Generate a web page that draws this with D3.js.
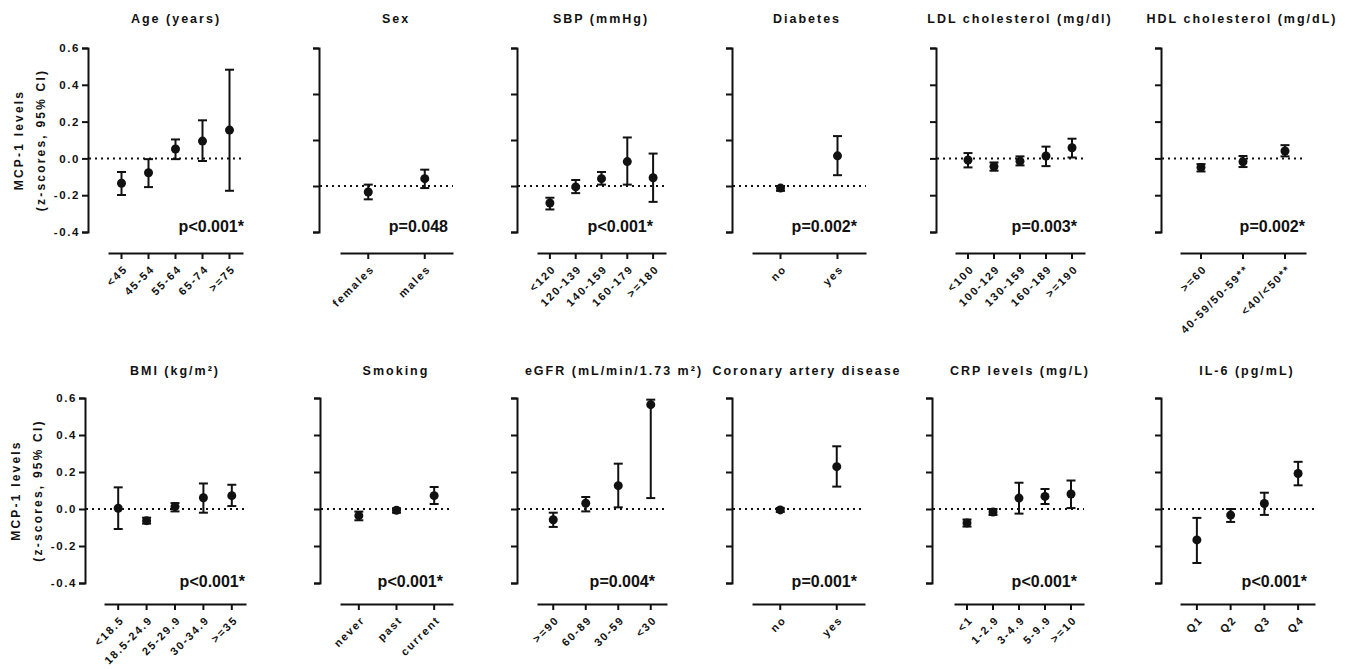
<!DOCTYPE html>
<html>
<head>
<meta charset="utf-8">
<script src="https://cdn.jsdelivr.net/npm/d3@7"></script>
<style>
  body { margin: 0; background: #fff; }
  svg { font-family: "Liberation Sans", Arial, sans-serif; font-weight: bold; }
</style>
</head>
<body>
<svg width="1360" height="669"></svg>
<script>
// values (z-scores, 95% CI)
const ageCats = ["<45", "45-54", "55-64", "65-74", ">=75"];
const ageMean = [-0.135, -0.078, 0.051, 0.094, 0.154];
const ageLo = [-0.199, -0.156, -0.004, -0.014, -0.176];
const ageHi = [-0.074, -0.004, 0.103, 0.207, 0.482];

const sexCats = ["females", "males"];
const sexMean = [-0.026, 0.032];
const sexLo = [-0.058, -0.009];
const sexHi = [0.006, 0.071];

const sbpCats = ["<120", "120-139", "140-159", "160-179", ">=180"];
const sbpMean = [-0.074, -0.004, 0.032, 0.106, 0.036];
const sbpLo = [-0.102, -0.031, 0.006, 0.006, -0.069];
const sbpHi = [-0.051, 0.026, 0.061, 0.211, 0.141];

const diabCats = ["no", "yes"];
const diabMean = [-0.009, 0.131];
const diabLo = [-0.021, 0.047];
const diabHi = [0.0, 0.217];

const ldlCats = ["<100", "100-129", "130-159", "160-189", ">=190"];
const ldlMean = [-0.009, -0.044, -0.015, 0.013, 0.058];
const ldlLo = [-0.049, -0.067, -0.038, -0.042, 0.005];
const ldlHi = [0.029, -0.022, 0.011, 0.064, 0.107];

const hdlCats = [">=60", "40-59/50-59**", "<40/<50**"];
const hdlMean = [-0.049, -0.018, 0.040];
const hdlLo = [-0.071, -0.047, 0.011];
const hdlHi = [-0.031, 0.013, 0.072];

const bmiCats = ["<18.5", "18.5-24.9", "25-29.9", "30-34.9", ">=35"];
const bmiMean = [0.004, -0.063, 0.013, 0.061, 0.072];
const bmiLo = [-0.108, -0.079, -0.013, -0.020, 0.016];
const bmiHi = [0.117, -0.047, 0.032, 0.138, 0.131];

const smokCats = ["never", "past", "current"];
const smokMean = [-0.036, -0.007, 0.072];
const smokLo = [-0.061, -0.020, 0.027];
const smokHi = [-0.014, 0.004, 0.119];

const egfrCats = [">=90", "60-89", "30-59", "<30"];
const egfrMean = [-0.058, 0.031, 0.126, 0.564];
const egfrLo = [-0.097, -0.013, 0.009, 0.059];
const egfrHi = [-0.020, 0.065, 0.245, 0.591];

const cadCats = ["no", "yes"];
const cadMean = [-0.005, 0.229];
const cadLo = [-0.016, 0.121];
const cadHi = [0.005, 0.339];

const crpCats = ["<1", "1-2.9", "3-4.9", "5-9.9", ">=10"];
const crpMean = [-0.075, -0.016, 0.059, 0.068, 0.081];
const crpLo = [-0.095, -0.032, -0.025, 0.027, 0.005];
const crpHi = [-0.057, 0.0, 0.142, 0.108, 0.154];

const il6Cats = ["Q1", "Q2", "Q3", "Q4"];
const il6Mean = [-0.167, -0.033, 0.030, 0.192];
const il6Lo = [-0.292, -0.070, -0.032, 0.128];
const il6Hi = [-0.048, 0.0, 0.088, 0.255];

const titles = ["Age (years)", "Sex", "SBP (mmHg)", "Diabetes", "LDL cholesterol (mg/dl)", "HDL cholesterol (mg/dL)",
  "BMI (kg/m²)", "Smoking", "eGFR (mL/min/1.73 m²)", "Coronary artery disease", "CRP levels (mg/L)", "IL-6 (pg/mL)"];
const pValues = ["p<0.001*", "p=0.048", "p<0.001*", "p=0.002*", "p=0.003*", "p=0.002*",
  "p<0.001*", "p<0.001*", "p=0.004*", "p=0.001*", "p<0.001*", "p<0.001*"];

const wide = [-0.4, 0.6];
const narrow = [-0.2, 0.6];

const rows = [
  { top: 48, bot: 232, axisY: 253, titleY: 23, pY: 232 },
  { top: 398, bot: 583, axisY: 604, titleY: 375, pY: 587 }
];

// layout of each panel: y axis position, x axis span, title centre, right edge of p text
const panels = [
  { row: 0, cats: ageCats, mean: ageMean, lo: ageLo, hi: ageHi, dom: wide, yx: 88, x0: 108, x1: 243, tx: 176, px: 244, labels: true },
  { row: 0, cats: sexCats, mean: sexMean, lo: sexLo, hi: sexHi, dom: narrow, yx: 319, x0: 340, x1: 453, tx: 396, px: 448 },
  { row: 0, cats: sbpCats, mean: sbpMean, lo: sbpLo, hi: sbpHi, dom: narrow, yx: 517, x0: 537, x1: 666, tx: 601, px: 653 },
  { row: 0, cats: diabCats, mean: diabMean, lo: diabLo, hi: diabHi, dom: narrow, yx: 732, x0: 752, x1: 866, tx: 807, px: 857 },
  { row: 0, cats: ldlCats, mean: ldlMean, lo: ldlLo, hi: ldlHi, dom: wide, yx: 936, x0: 955, x1: 1085, tx: 1020, px: 1077 },
  { row: 0, cats: hdlCats, mean: hdlMean, lo: hdlLo, hi: hdlHi, dom: wide, yx: 1161, x0: 1180, x1: 1306, tx: 1242, px: 1305 },
  { row: 1, cats: bmiCats, mean: bmiMean, lo: bmiLo, hi: bmiHi, dom: wide, yx: 85, x0: 104, x1: 246, tx: 175, px: 245, labels: true },
  { row: 1, cats: smokCats, mean: smokMean, lo: smokLo, hi: smokHi, dom: wide, yx: 320, x0: 340, x1: 453, tx: 396, px: 443 },
  { row: 1, cats: egfrCats, mean: egfrMean, lo: egfrLo, hi: egfrHi, dom: wide, yx: 517, x0: 537, x1: 667, tx: 614, px: 655 },
  { row: 1, cats: cadCats, mean: cadMean, lo: cadLo, hi: cadHi, dom: wide, yx: 732, x0: 752, x1: 865, tx: 807, px: 857 },
  { row: 1, cats: crpCats, mean: crpMean, lo: crpLo, hi: crpHi, dom: wide, yx: 932, x0: 954, x1: 1084, tx: 1020, px: 1077 },
  { row: 1, cats: il6Cats, mean: il6Mean, lo: il6Lo, hi: il6Hi, dom: wide, yx: 1161, x0: 1180, x1: 1315, tx: 1247, px: 1307 }
];

const ink = "#111";
const svg = d3.select("svg");

panels.forEach((p, i) => {
  const row = rows[p.row];
  const g = svg.append("g");
  const y = d3.scaleLinear().domain(p.dom).range([row.bot, row.top]);
  const x = d3.scaleBand().domain(p.cats).range([p.x0, p.x1]);

  const yAxis = d3.axisLeft(y)
    .ticks(5)
    .tickSize(6)
    .tickPadding(2)
    .tickFormat(p.labels ? d => d.toFixed(1) : "");

  const ya = g.append("g")
    .attr("transform", "translate(" + p.yx + ",0)")
    .call(yAxis);

  const xAxis = d3.axisBottom(x).tickSize(6).tickSizeOuter(0);
  const xa = g.append("g")
    .attr("transform", "translate(0," + row.axisY + ")")
    .call(xAxis);

  [ya, xa].forEach(a => {
    a.selectAll("path, line").attr("stroke", ink).attr("stroke-width", 2);
    a.selectAll("text").attr("fill", ink).style("font-weight", "bold");
  });
  ya.selectAll("text").style("font-size", "11.5px").style("letter-spacing", "1.6px");
  xa.selectAll("text")
    .attr("text-anchor", "end")
    .attr("x", 0)
    .attr("y", 0)
    .attr("dy", "0.35em")
    .attr("transform", "translate(4,14) rotate(-45)")
    .style("font-size", "11px")
    .style("letter-spacing", "1.8px");

  // reference line at zero
  g.append("line")
    .attr("x1", p.yx + 1)
    .attr("x2", p.x1)
    .attr("y1", y(0))
    .attr("y2", y(0))
    .attr("stroke", ink)
    .attr("stroke-width", 2)
    .attr("stroke-dasharray", "2,4");

  const pts = p.cats.map((c, j) => ({ c: c, m: p.mean[j], lo: p.lo[j], hi: p.hi[j] }));
  const cx = d => x(d.c) + x.bandwidth() / 2;
  const cap = 4.5;

  const bars = g.selectAll(".bar")
    .data(pts)
    .enter()
    .append("g")
    .attr("class", "bar");

  bars.append("line")
    .attr("x1", cx).attr("x2", cx)
    .attr("y1", d => y(d.lo)).attr("y2", d => y(d.hi))
    .attr("stroke", ink).attr("stroke-width", 2);
  bars.append("line")
    .attr("x1", d => cx(d) - cap).attr("x2", d => cx(d) + cap)
    .attr("y1", d => y(d.lo)).attr("y2", d => y(d.lo))
    .attr("stroke", ink).attr("stroke-width", 2);
  bars.append("line")
    .attr("x1", d => cx(d) - cap).attr("x2", d => cx(d) + cap)
    .attr("y1", d => y(d.hi)).attr("y2", d => y(d.hi))
    .attr("stroke", ink).attr("stroke-width", 2);
  bars.append("circle")
    .attr("cx", cx)
    .attr("cy", d => y(d.m))
    .attr("r", 4.5)
    .attr("fill", ink);

  g.append("text")
    .attr("x", p.tx)
    .attr("y", row.titleY)
    .attr("text-anchor", "middle")
    .attr("fill", ink)
    .style("font-size", "12.5px")
    .style("letter-spacing", "2px")
    .text(titles[i]);

  g.append("text")
    .attr("x", p.px)
    .attr("y", row.pY)
    .attr("text-anchor", "end")
    .attr("fill", ink)
    .style("font-size", "16px")
    .text(pValues[i]);

  if (p.labels) {
    const cy = (row.top + row.bot) / 2;
    g.append("text")
      .attr("transform", "translate(" + (p.yx - 65) + "," + cy + ") rotate(-90)")
      .attr("text-anchor", "middle")
      .attr("fill", ink)
      .style("font-size", "12px")
      .style("letter-spacing", "2.2px")
      .text("MCP-1 levels");
    g.append("text")
      .attr("transform", "translate(" + (p.yx - 43) + "," + cy + ") rotate(-90)")
      .attr("text-anchor", "middle")
      .attr("fill", ink)
      .style("font-size", "12px")
      .style("letter-spacing", "2.2px")
      .text("(z-scores, 95% CI)");
  }
});
</script>
</body>
</html>
